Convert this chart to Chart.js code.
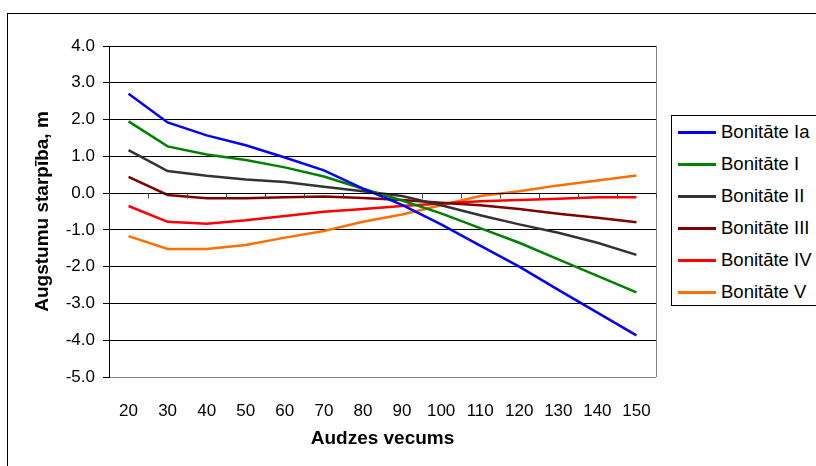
<!DOCTYPE html>
<html>
<head>
<meta charset="utf-8">
<script src="https://cdn.jsdelivr.net/npm/chart.js@4/dist/chart.umd.min.js"></script>
<style>
    html, body { margin: 0; padding: 0; background: #fff; }
    body { width: 816px; height: 466px; overflow: hidden; position: relative; font-family: 'Liberation Sans', Arial, sans-serif; }
    .frame { position: absolute; left: 7px; top: 13px; width: 900px; height: 600px; border: 1px solid #000; }
    #chart { position: absolute; left: 0; top: 0; }
    .legend { position: absolute; left: 671px; top: 115px; width: 160px; height: 189px; border: 1px solid #000; background: #fff; }
    .legend-item { position: absolute; left: 0; height: 20px; line-height: 20px; font-size: 18.5px; color: #000; white-space: nowrap; }
    .legend-line { position: absolute; left: 6px; top: 9px; width: 38px; height: 3px; }
    .legend-text { position: absolute; left: 49px; top: 0; }
</style>
</head>
<body>
<div class="frame"></div>
<canvas id="chart" width="816" height="466"></canvas>
<div class="legend" id="legend"></div>
<script>
const AGES = ['20', '30', '40', '50', '60', '70', '80', '90', '100', '110', '120', '130', '140', '150'];

const BON_IA  = [2.70, 1.92, 1.57, 1.30, 0.97, 0.62, 0.12, -0.32, -0.85, -1.43, -2.00, -2.63, -3.25, -3.87];
const BON_I   = [1.95, 1.27, 1.05, 0.90, 0.70, 0.45, 0.12, -0.20, -0.55, -0.95, -1.35, -1.80, -2.25, -2.70];
const BON_II  = [1.17, 0.60, 0.47, 0.37, 0.30, 0.17, 0.05, -0.08, -0.33, -0.60, -0.85, -1.08, -1.35, -1.68];
const BON_III = [0.44, -0.05, -0.14, -0.14, -0.11, -0.09, -0.13, -0.19, -0.26, -0.33, -0.43, -0.56, -0.67, -0.79];
const BON_IV  = [-0.35, -0.78, -0.83, -0.74, -0.62, -0.51, -0.43, -0.35, -0.28, -0.22, -0.19, -0.15, -0.11, -0.11];
const BON_V   = [-1.17, -1.52, -1.52, -1.41, -1.21, -1.03, -0.78, -0.58, -0.33, -0.08, 0.05, 0.21, 0.34, 0.48];

const SERIES_NAMES = ['Bonitāte Ia', 'Bonitāte I', 'Bonitāte II', 'Bonitāte III', 'Bonitāte IV', 'Bonitāte V'];
const SERIES_DATA = [BON_IA, BON_I, BON_II, BON_III, BON_IV, BON_V];
const COLORS = ['#0000ff', '#008000', '#333333', '#800000', '#ff0000', '#ff6f00'];

const Y_MIN = -5;
const Y_MAX = 4;

Chart.defaults.font.family = "'Liberation Sans', Arial, sans-serif";
Chart.defaults.color = '#000';

// gray right edge of the plot area + excel style category ticks on the zero line
const plotFrame = {
    id: 'plotFrame',
    afterDraw(chart) {
        const { ctx, chartArea: a, scales } = chart;
        const x = scales.x, y = scales.y;
        ctx.save();
        ctx.lineWidth = 1;
        ctx.strokeStyle = '#808080';
        ctx.beginPath();
        ctx.moveTo(Math.round(a.right) + 0.5, a.top);
        ctx.lineTo(Math.round(a.right) + 0.5, a.bottom);
        ctx.stroke();

        const y0 = Math.round(y.getPixelForValue(0)) + 0.5;
        ctx.strokeStyle = '#000';
        ctx.beginPath();
        ctx.moveTo(a.left, y0);
        ctx.lineTo(a.right, y0);
        ctx.stroke();

        ctx.strokeStyle = '#444';
        ctx.beginPath();
        for (let i = 0; i <= AGES.length; i++) {
            let px;
            if (i === 0) px = a.left;
            else if (i === AGES.length) px = a.right;
            else px = (x.getPixelForValue(i - 1) + x.getPixelForValue(i)) / 2;
            px = Math.round(px) + 0.5;
            ctx.moveTo(px, y0);
            ctx.lineTo(px, y0 + 5);
        }
        ctx.stroke();
        ctx.restore();
    }
};

new Chart(document.getElementById('chart'), {
    type: 'line',
    data: {
        labels: AGES,
        datasets: SERIES_NAMES.map((name, i) => ({
            label: name,
            data: SERIES_DATA[i],
            borderColor: COLORS[i],
            backgroundColor: COLORS[i],
            borderWidth: 2.5,
            pointRadius: 0,
            tension: 0,
            fill: false
        }))
    },
    options: {
        responsive: false,
        animation: false,
        layout: { padding: { left: 27, top: 46, right: 160, bottom: 14 } },
        plugins: {
            legend: { display: false },
            tooltip: { enabled: false }
        },
        scales: {
            x: {
                position: 'bottom',
                offset: true,
                afterFit: (scale) => { scale.height = 75; },
                grid: { display: false, drawTicks: false, tickLength: 0 },
                border: { display: false },
                ticks: { font: { size: 17 }, padding: 24, maxRotation: 0, autoSkip: false },
                title: {
                    display: true,
                    text: 'Audzes vecums',
                    font: { size: 19, weight: 'bold' },
                    padding: { top: 7, bottom: 2 }
                }
            },
            y: {
                min: Y_MIN,
                max: Y_MAX,
                afterFit: (scale) => { scale.width = 82; },
                ticks: {
                    stepSize: 1,
                    font: { size: 17 },
                    padding: 8,
                    callback: (v) => Number(v).toFixed(1)
                },
                grid: {
                    color: (ctx) => ctx.tick && ctx.tick.value === Y_MIN ? '#808080' : '#000',
                    tickColor: '#000',
                    drawTicks: true,
                    tickLength: 6
                },
                border: { display: true, color: '#000', width: 1 },
                title: {
                    display: true,
                    text: 'Augstumu starpība, m',
                    font: { size: 19, weight: 'bold' },
                    padding: { top: 4, bottom: 4 }
                }
            }
        }
    },
    plugins: [plotFrame]
});

const legend = document.getElementById('legend');
legend.innerHTML = SERIES_NAMES.map((name, i) =>
    `<div class="legend-item" style="top:${6 + i * 32}px">
        <span class="legend-line" style="background:${COLORS[i]}"></span>
        <span class="legend-text">${name}</span>
    </div>`
).join('');
</script>
</body>
</html>
